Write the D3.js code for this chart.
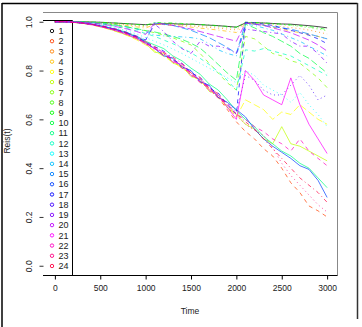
<!DOCTYPE html>
<html><head><meta charset="utf-8">
<script src="https://cdn.jsdelivr.net/npm/d3@7"></script>
<style>body{margin:0;background:#fff}svg{display:block}text{font-family:"Liberation Sans",Arial,sans-serif}</style>
</head><body><svg id="c" width="362" height="327"></svg>
<script>
const times = d3.range(0, 3001, 100);
const seriesNames = ["1","2","3","4","5","6","7","8","9","10","11","12","13","14","15","16","17","18","19","20","21","22","23","24"];
const xTicks = [0,500,1000,1500,2000,2500,3000];
const yTicks = [0,0.2,0.4,0.6,0.8,1.0];
const s1 = [1,1,1,1,.999,.998,.996,.994,.992,.99,.988,.99,.992,.992,.99,.99,.988,.986,.984,.981,.978,.995,.996,.995,.993,.991,.99,.987,.984,.98,.975];
const s2 = [1,1,.998,.994,.989,.981,.972,.961,.948,.932,.912,.892,.862,.845,.81,.79,.752,.728,.69,.64,.59,.55,.52,.48,.45,.40,.34,.30,.245,.225,.20];
const s3 = [1,1,1,.999,.998,.996,.993,.99,.987,.983,.98,.992,.99,.988,.986,.983,.98,.977,.974,.97,.967,.995,.993,.99,.985,.98,.976,.972,.966,.958,.95];
const s4 = [1,1,1,.999,.997,.995,.992,.988,.984,.979,.974,.99,.988,.985,.982,.978,.974,.97,.966,.961,.956,.994,.99,.985,.978,.97,.962,.955,.948,.94,.93];
const s5 = [1,1,.997,.993,.987,.979,.969,.957,.943,.926,.905,.88,.858,.835,.81,.785,.755,.725,.69,.65,.61,.68,.66,.64,.6,.63,.62,.66,.63,.6,.58];
const s6 = [1,1,.998,.994,.989,.98,.97,.958,.945,.93,.91,.875,.87,.83,.82,.775,.765,.715,.70,.65,.62,.58,.56,.52,.5,.57,.5,.49,.47,.45,.43];
const s7 = [1,1,1,.998,.996,.993,.989,.984,.978,.971,.963,.955,.945,.934,.92,.905,.87,.83,.79,.75,.72,.94,.93,.9,.87,.86,.84,.83,.8,.77,.73];
const s8 = [1,1,1,1,.999,.997,.995,.993,.99,.987,.984,.995,.994,.992,.99,.988,.986,.983,.98,.977,.974,.996,.995,.993,.99,.988,.985,.981,.976,.97,.963];
const s9 = [1,1,1,1,.999,.998,.996,.994,.992,.989,.986,.997,.996,.995,.993,.991,.989,.987,.984,.981,.978,.998,.997,.995,.993,.99,.987,.984,.98,.975,.968];
const s10 = [1,1,1,.999,.997,.994,.99,.985,.979,.972,.964,.958,.95,.94,.928,.912,.892,.86,.825,.79,.76,.99,.975,.955,.94,.92,.9,.87,.85,.82,.79];
const s11 = [1,1,.998,.995,.99,.984,.976,.967,.955,.94,.92,.905,.89,.86,.84,.81,.785,.745,.72,.68,.635,.6,.57,.53,.5,.47,.45,.42,.40,.36,.32];
const s12 = [1,1,1,.998,.995,.991,.986,.98,.972,.963,.952,.94,.925,.91,.893,.873,.85,.825,.795,.76,.72,.885,.88,.89,.88,.87,.86,.84,.82,.8,.78];
const s13 = [1,1,.999,.997,.993,.988,.981,.972,.962,.95,.935,.92,.905,.888,.87,.85,.83,.81,.79,.77,.75,.8,.78,.74,.72,.7,.67,.71,.66,.62,.57];
const s14 = [1,1,1,.999,.997,.994,.99,.985,.978,.97,.96,.945,.942,.94,.938,.935,.93,.91,.885,.87,.86,.99,.985,.975,.965,.95,.935,.92,.9,.88,.86];
const s15 = [1,1,.998,.995,.99,.983,.975,.966,.955,.94,.925,.995,.99,.985,.975,.965,.95,.935,.915,.895,.87,.995,.99,.985,.98,.975,.97,.96,.95,.94,.93];
const s16 = [1,1,.998,.995,.99,.983,.974,.964,.952,.936,.915,.89,.86,.85,.815,.80,.755,.74,.69,.67,.64,.61,.56,.52,.49,.465,.44,.41,.395,.35,.28];
const s17 = [1,1,.998,.995,.99,.983,.975,.965,.953,.938,.918,.898,.88,.842,.83,.79,.772,.728,.708,.66,.62,.998,.995,.99,.985,.975,.965,.955,.945,.93,.91];
const s18 = [1,1,.998,.994,.989,.982,.973,.962,.95,.934,.913,.892,.865,.852,.812,.798,.752,.738,.69,.668,.63,.78,.76,.72,.7,.7,.74,.78,.74,.68,.7];
const s19 = [1,1,.999,.996,.992,.986,.978,.968,.956,.942,.925,.99,.96,.92,.89,.87,.92,.9,.9,.89,.87,.97,.965,.96,.955,.95,.92,.9,.9,.87,.83];
const s20 = [1,1,1,.998,.995,.991,.985,.978,.97,.96,.948,.995,.99,.985,.978,.97,.96,.95,.94,.93,.92,.995,.99,.985,.975,.965,.955,.94,.925,.905,.88];
const s21 = [1,1,.998,.994,.988,.98,.971,.96,.947,.931,.91,.889,.875,.835,.826,.78,.765,.72,.70,.65,.6,.8,.76,.7,.68,.66,.77,.66,.58,.52,.46];
const s22 = [1,1,.998,.995,.99,.983,.974,.964,.951,.935,.914,.893,.86,.85,.81,.795,.75,.735,.685,.665,.62,.6,.57,.55,.52,.5,.47,.52,.47,.44,.41];
const s23 = [1,1,.998,.995,.989,.981,.972,.961,.948,.932,.912,.885,.87,.835,.82,.78,.762,.716,.695,.648,.615,.58,.555,.535,.485,.42,.37,.33,.29,.25,.22];
const s24 = [1,1,.998,.995,.99,.983,.975,.965,.953,.938,.918,.897,.874,.855,.83,.79,.772,.728,.705,.658,.625,.59,.56,.52,.48,.44,.40,.36,.33,.30,.26];
const allSeries = [s1,s2,s3,s4,s5,s6,s7,s8,s9,s10,s11,s12,s13,s14,s15,s16,s17,s18,s19,s20,s21,s22,s23,s24];

const colors = seriesNames.map((n,i) => i === 0 ? "#000000" : d3.hsl(i*15, 1, 0.5).formatHex());
const dashes = ["", "4,4", "1,3", "1,3,4,3", "7,3"];

const svg = d3.select("#c");
const x = d3.scaleLinear().domain([-120, 3120]).range([44, 338]);
const y = d3.scaleLinear().domain([-0.04, 1.04]).range([275.5, 12]);

// outer frame
svg.append("line").attr("x1",2).attr("x2",2).attr("y1",3).attr("y2",327).attr("stroke","#000").attr("stroke-width",1.5);
svg.append("line").attr("x1",2).attr("x2",357.5).attr("y1",3.5).attr("y2",3.5).attr("stroke","#000").attr("stroke-width",1.5);
svg.append("line").attr("x1",357.5).attr("x2",357.5).attr("y1",3).attr("y2",319).attr("stroke","#333").attr("stroke-width",1.5);

// plot box (top/right gray)
svg.append("line").attr("x1",43).attr("x2",337.5).attr("y1",12.5).attr("y2",12.5).attr("stroke","#888");
svg.append("line").attr("x1",337.5).attr("x2",337.5).attr("y1",12.5).attr("y2",275.5).attr("stroke","#888");

// x axis
const xAxis = d3.axisBottom(x).tickValues(xTicks).tickSize(4).tickSizeOuter(0).tickFormat(d3.format("d"));
const gx = svg.append("g").attr("transform","translate(0,275.5)").call(xAxis);
gx.select(".domain").attr("d","M43,0H337.5").attr("stroke","#000");
gx.selectAll(".tick line").attr("stroke","#000");
gx.selectAll("text").attr("font-size",8.5).attr("fill","#222").attr("dy","1.05em").style("font-family","'Liberation Sans',Arial,sans-serif");

// y axis
const yAxis = d3.axisLeft(y).tickValues(yTicks).tickSize(4).tickFormat(d3.format(".1f"));
const gy = svg.append("g").attr("transform","translate(43.5,0)").call(yAxis);
gy.select(".domain").remove();
gy.selectAll(".tick line").attr("stroke","#333");
gy.selectAll(".tick text").attr("font-size",8.5).attr("fill","#222")
  .attr("x",0).attr("dy",0).attr("text-anchor","middle")
  .attr("transform","translate(-11.5,0) rotate(-90)")
  .style("font-family","'Liberation Sans',Arial,sans-serif");

// axis titles
svg.append("text").attr("x",190).attr("y",314).attr("text-anchor","middle").attr("font-size",8.5).attr("fill","#222").text("Time");
svg.append("text").attr("transform","translate(10,141) rotate(-90)").attr("text-anchor","middle").attr("font-size",8.5).attr("fill","#222").text("Reis(t)");

// legend
svg.append("line").attr("x1",43).attr("x2",72.5).attr("y1",20.5).attr("y2",20.5).attr("stroke","#000");
svg.append("line").attr("x1",72.5).attr("x2",72.5).attr("y1",20.5).attr("y2",275.5).attr("stroke","#000");
const ly = d3.scaleLinear().domain([0, 23]).range([31, 266]);
const lg = svg.append("g");
seriesNames.forEach((n,i) => {
  lg.append("circle").attr("cx",52).attr("cy",ly(i)).attr("r",1.7).attr("fill","none").attr("stroke",colors[i]).attr("stroke-width",0.9);
  lg.append("text").attr("x",58.5).attr("y",ly(i)+3.2).attr("font-size",9).attr("fill","#222").text(n);
});

// lines
const line = d3.line().x((d,i) => x(times[i])).y(d => y(d));
allSeries.forEach((s,i) => {
  svg.append("path").datum(s).attr("d",line).attr("fill","none")
    .attr("stroke",colors[i]).attr("stroke-width",0.7)
    .attr("stroke-dasharray",dashes[i % 5] || null);
});
</script></body></html>
